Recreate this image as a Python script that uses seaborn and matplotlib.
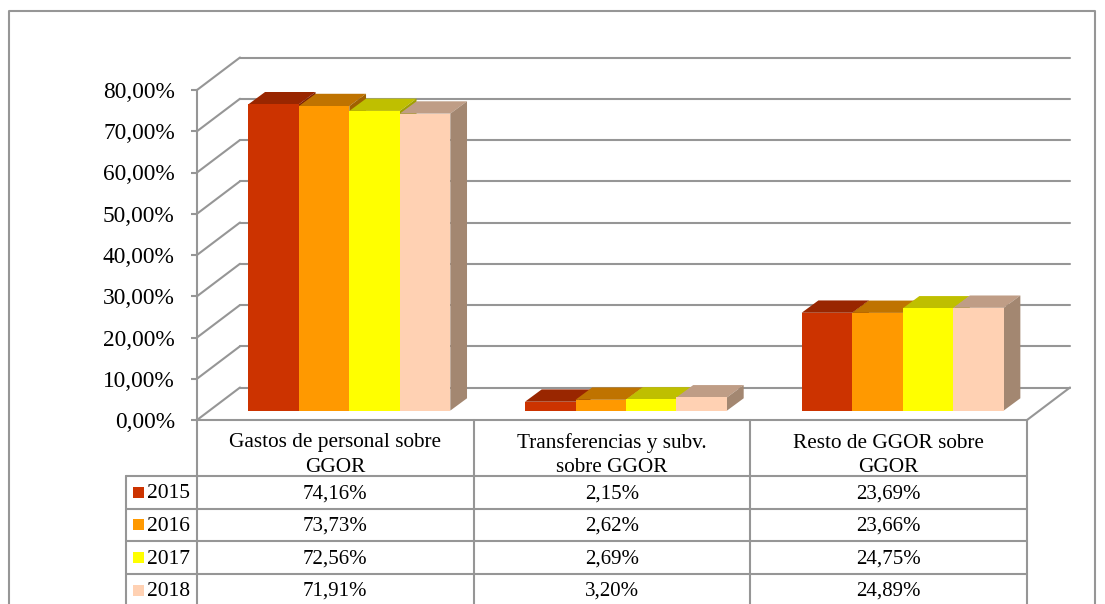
import pandas as pd
import seaborn as sns
import matplotlib.pyplot as plt
from matplotlib.patches import Polygon, Rectangle

categorias = ['Gastos de personal sobre\nGGOR', 'Transferencias y subv.\nsobre GGOR', 'Resto de GGOR sobre\nGGOR']
anios = ['2015', '2016', '2017', '2018']
valores_2015 = [74.16, 2.15, 23.69]
valores_2016 = [73.73, 2.62, 23.66]
valores_2017 = [72.56, 2.69, 24.75]
valores_2018 = [71.91, 3.20, 24.89]
series = [valores_2015, valores_2016, valores_2017, valores_2018]
colores = ['#CC3300', '#FF9900', '#FFFF00', '#FFD1B3']
colores_top = ['#992600', '#BF7300', '#BFBF00', '#BF9D86']
colores_lado = ['#802000', '#A06000', '#A0A000', '#A38771']
ticks = [0, 10, 20, 30, 40, 50, 60, 70, 80]
GRIS = '#969696'
W, H = 1105, 604

def fmt(v):
    return f'{v:.2f}'.replace('.', ',') + '%'

def caja(x0, y0, x1, y1):
    # pixels de la imagen a coordenadas de figura
    return [x0 / W, 1 - y1 / H, (x1 - x0) / W, (y1 - y0) / H]

df = pd.DataFrame({
    'categoria': [c for _ in anios for c in categorias],
    'anio': [a for a in anios for _ in categorias],
    'valor': [v for s in series for v in s],
})

sns.set_theme(style='white')
plt.rcParams['font.family'] = ['Liberation Serif', 'DejaVu Serif']

fig = plt.figure(figsize=(W / 100, H / 100), dpi=100, facecolor='white')

# capa de pagina: marco y tabla, en pixeles
page = fig.add_axes([0, 0, 1, 1])
page.set_xlim(0, W)
page.set_ylim(H, 0)
page.axis('off')

# plano frontal: eje y y paredes
wall = fig.add_axes(caja(197, 90, 1027, 420))
wall.patch.set_alpha(0)
wall.set_xlim(-0.5, 2.5)
wall.set_ylim(0, 80)
sns.despine(ax=wall, right=True, top=True, bottom=False)
wall.spines['left'].set_color(GRIS)
wall.spines['left'].set_linewidth(1.5)
wall.spines['bottom'].set_color(GRIS)
wall.spines['bottom'].set_linewidth(1.5)
wall.set_yticks(ticks)
wall.set_yticklabels([fmt(t) for t in ticks], fontsize=16.8, color='black')
wall.tick_params(axis='y', left=True, length=4.5, width=1.5, color=GRIS, pad=11.5)
wall.set_xticks([])

px_x = 3 / 830
px_y = 80 / 330
fondo_x = 43 * px_x
fondo_y = 32.5 * px_y
for t in ticks:
    wall.plot([-0.5, -0.5 + fondo_x], [t, t + fondo_y], color=GRIS, lw=1.5, clip_on=False, zorder=1)
    wall.plot([-0.5 + fondo_x, 2.5 + fondo_x], [t + fondo_y, t + fondo_y], color=GRIS, lw=1.5, clip_on=False, zorder=1)
wall.plot([2.5, 2.5 + fondo_x], [0, fondo_y], color=GRIS, lw=1.5, clip_on=False, zorder=1)

# barras
ax = fig.add_axes(caja(211, 410.6 - 330.4, 1041, 410.6))
ax.patch.set_alpha(0)
sns.barplot(data=df, x='categoria', y='valor', hue='anio', order=categorias, hue_order=anios,
            palette=colores, saturation=1, width=0.73, gap=0, dodge=True, legend=False, ax=ax, linewidth=0)
ax.set_xlim(-0.5, 2.5)
ax.set_ylim(0, 80)
ax.axis('off')

dx = 16.7 * px_x
dy = 12.3 * px_y
for i, cont in enumerate(ax.containers):
    for bar in cont:
        x0 = bar.get_x()
        x1 = x0 + bar.get_width()
        h = bar.get_height()
        bar.set_zorder(5 + i * 3 + 2)
        ax.add_patch(Polygon([(x0, h), (x1, h), (x1 + dx, h + dy), (x0 + dx, h + dy)],
                             facecolor=colores_top[i], edgecolor='none', clip_on=False, zorder=5 + i * 3))
        ax.add_patch(Polygon([(x1, 0), (x1 + dx, dy), (x1 + dx, h + dy), (x1, h)],
                             facecolor=colores_lado[i], edgecolor='none', clip_on=False, zorder=5 + i * 3 + 1))

# marco exterior
page.plot([9, 9, 1095, 1095], [H, 11, 11, H], color=GRIS, lw=1.5, clip_on=False)

# tabla de datos
col_x = [197, 473.5, 750, 1027]
fila_y = [476, 508.5, 541, 574, 606]
for x in col_x:
    page.plot([x, x], [420, H], color=GRIS, lw=1.5)
page.plot([126, 126], [476, H], color=GRIS, lw=1.5)
for y in fila_y:
    page.plot([126, 1027], [y, y], color=GRIS, lw=1.5)

for j, cat in enumerate(categorias):
    centro = (col_x[j] + col_x[j + 1]) / 2
    lineas = cat.split('\n')
    page.text(centro, 443, lineas[0], ha='center', va='center', fontsize=15.3, color='black')
    page.text(centro, 467, lineas[1], ha='center', va='center', fontsize=15.3, color='black')
    for i, s in enumerate(series):
        page.text(centro, (fila_y[i] + fila_y[i + 1]) / 2 + 1.5, fmt(s[j]), ha='center', va='center',
                  fontsize=15, color='black')

for i, a in enumerate(anios):
    yc = (fila_y[i] + fila_y[i + 1]) / 2
    page.add_patch(Rectangle((133, yc - 5.5), 11, 11, facecolor=colores[i], edgecolor='none'))
    page.text(147.5, yc + 1.5, a, ha='left', va='center', fontsize=15.5, color='black')

fig.savefig('out.png', dpi=100)
